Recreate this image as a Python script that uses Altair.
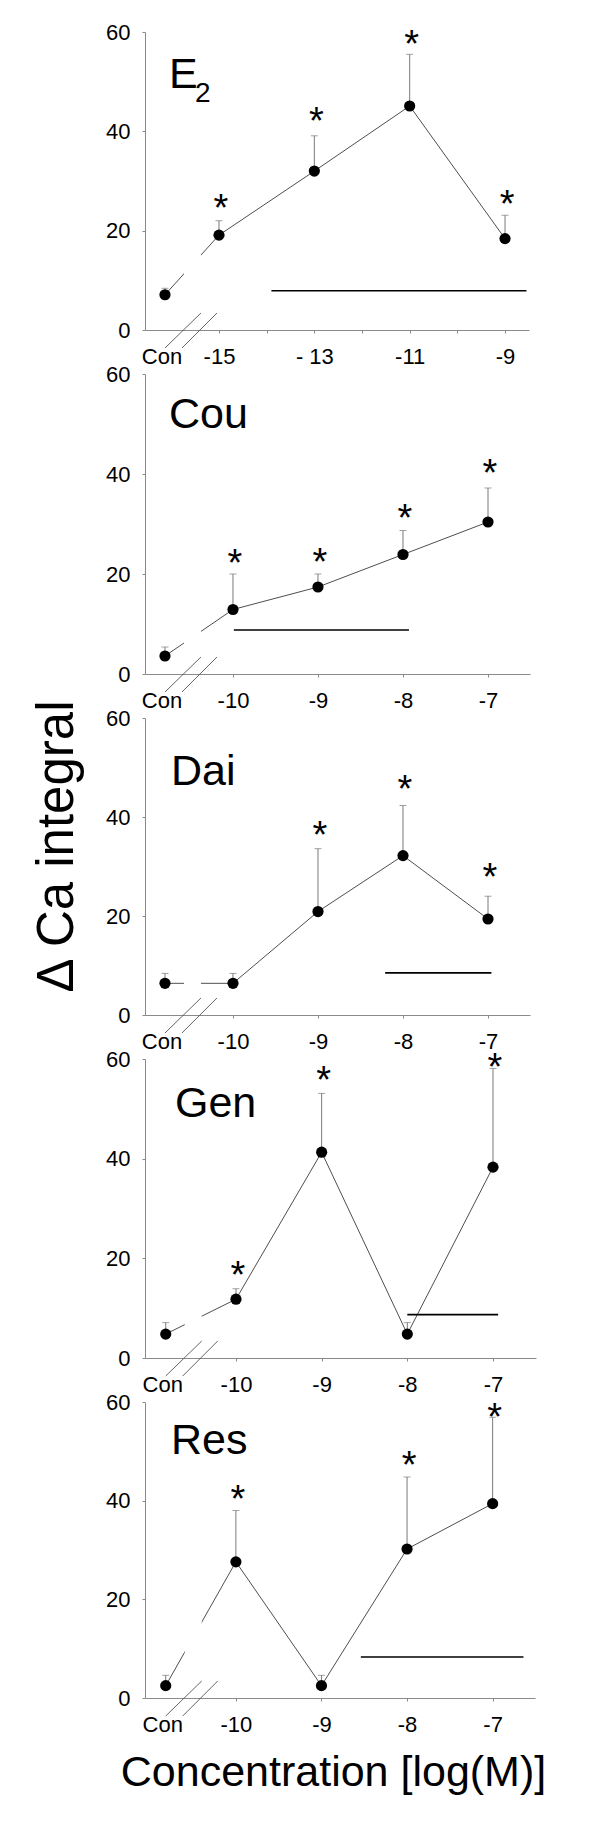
import altair as alt
import pandas as pd

FONT = "Liberation Sans"

# ---------------- data ----------------
panel_titles = ["E", "Cou", "Dai", "Gen", "Res"]
title_subscripts = ["2", "", "", "", ""]
con_label = "Con"
con_positions = [-16.133, -10.80, -10.80, -10.82, -10.82]
dose_positions = [
    [-15, -13, -11, -9],
    [-10, -9, -8, -7],
    [-10, -9, -8, -7],
    [-10, -9, -8, -7],
    [-10, -9, -8, -7],
]
means = [
    [7.1, 19.1, 32.0, 45.1, 18.4],
    [3.6, 12.9, 17.4, 23.9, 30.4],
    [6.4, 6.4, 20.9, 32.2, 19.4],
    [4.8, 11.8, 41.3, 4.8, 38.3],
    [2.5, 27.6, 2.5, 30.2, 39.4],
]
err_tops = [
    [8.4, 22.0, 39.1, 55.5, 23.1],
    [5.4, 20.0, 20.0, 28.7, 37.2],
    [8.4, 8.4, 33.6, 42.3, 24.0],
    [7.1, 13.9, 53.1, 7.1, 58.1],
    [4.6, 38.0, 4.6, 44.8, 56.9],
]
star_levels = [
    [None, 26.2, 43.6, 59.1, 27.0],
    [None, 23.9, 24.1, 32.8, 41.9],
    [None, None, 37.9, 47.3, 29.5],
    [None, 18.3, 57.3, None, 60.1],
    [None, 41.9, None, 48.9, 58.6],
]
bar_levels = [7.9, 8.8, 8.5, 8.7, 8.3]
bar_spans = [[-13.9, -8.55], [-9.99, -7.93], [-8.21, -6.96], [-8.0, -6.94], [-8.54, -6.64]]

tick_values = [
    [-15, -14, -13, -12, -11, -10, -9],
    [-10, -9, -8, -7],
    [-10, -9, -8, -7],
    [-10, -9, -8, -7],
    [-10, -9, -8, -7],
]
tick_texts = [
    ["-15", "", "- 13", "", "-11", "", "-9"],
    ["-10", "-9", "-8", "-7"],
    ["-10", "-9", "-8", "-7"],
    ["-10", "-9", "-8", "-7"],
    ["-10", "-9", "-8", "-7"],
]
y_ticks = [0, 20, 40, 60]
y_title = "Δ Ca integral"
x_title = "Concentration [log(M)]"

# ---------------- layout / style ----------------
x_domains = [[-16.552, -8.497], [-11.035, -6.506], [-11.035, -6.506], [-11.062, -6.498], [-11.062, -6.505]]
widths = [384, 385, 385, 391, 390]
heights = [298, 300, 297, 299, 296]
title_dx = [24, 24, 26, 30, 26]
title_base = [56, 54, 67, 58, 52]
BREAK_PX = [(0, 36), (17, 52)]
BAND_PX = (19, 36)
LABEL_SIZE = 22


def panel(i):
    w, h = widths[i], heights[i]
    d0, d1 = x_domains[i]
    pxx = w / (d1 - d0)
    pxy = h / 60.0
    cx = con_positions[i]
    xs = [cx] + dose_positions[i]
    pts = pd.DataFrame({"x": xs, "y": means[i], "top": err_tops[i]})

    parts = [f"datum.value == {v} ? '{t}'" for v, t in zip(tick_values[i], tick_texts[i])]
    label_expr = " : ".join(parts) + " : ''"

    xaxis_kw = dict(values=tick_values[i], labelExpr=label_expr, labelPadding=13,
                    labelOverlap=False, labelFlush=False)
    if i == 4:
        xaxis_kw.update(title=x_title, titleFontSize=43, titleX=188, titleY=53,
                        titleBaseline="top", titleAlign="center")
    else:
        xaxis_kw.update(title=None)
    yaxis_kw = dict(values=y_ticks, labelPadding=12)
    if i == 2:
        yaxis_kw.update(title=y_title, titleFontSize=51, titleX=-62, titleY=128,
                        titleAlign="center", titleAngle=270)
    else:
        yaxis_kw.update(title=None)

    X = alt.X("x:Q", scale=alt.Scale(domain=[d0, d1], nice=False, zero=False), axis=alt.Axis(**xaxis_kw))
    Y = alt.Y("y:Q", scale=alt.Scale(domain=[0, 60], nice=False, zero=False), axis=alt.Axis(**yaxis_kw))

    base = alt.Chart(pts)
    err = base.mark_rule(color="#7a7a7a", strokeWidth=1).encode(x=X, y=Y, y2="top:Q")
    caps = base.mark_tick(orient="horizontal", size=7, thickness=1, color="#7a7a7a").encode(
        x="x:Q", y="top:Q")
    line = base.mark_line(color="#3a3a3a", strokeWidth=0.9).encode(x="x:Q", y="y:Q")

    band = pd.DataFrame({"x": [cx + BAND_PX[0] / pxx], "x2": [cx + BAND_PX[1] / pxx],
                         "y": [0.6], "y2": [60]})
    band_l = alt.Chart(band).mark_rect(color="white").encode(x="x:Q", x2="x2:Q", y="y:Q", y2="y2:Q")

    brk = pd.DataFrame({
        "x": [cx + a / pxx for a, b in BREAK_PX],
        "x2": [cx + b / pxx for a, b in BREAK_PX],
        "y": [-18 / pxy] * 2,
        "y2": [17 / pxy] * 2,
    })
    brk_l = alt.Chart(brk).mark_rule(color="#555555", strokeWidth=0.9).encode(
        x="x:Q", x2="x2:Q", y="y:Q", y2="y2:Q")

    dots = base.mark_circle(size=125, color="black", opacity=1).encode(x="x:Q", y="y:Q")

    bar = pd.DataFrame({"x": [bar_spans[i][0]], "x2": [bar_spans[i][1]], "y": [bar_levels[i]]})
    bar_l = alt.Chart(bar).mark_rule(color="black", strokeWidth=1.6).encode(x="x:Q", x2="x2:Q", y="y:Q")

    st = pd.DataFrame({"x": xs, "y": star_levels[i]}).dropna()
    stars = alt.Chart(st).mark_text(text="*", fontSize=38, font=FONT, baseline="alphabetic",
                                    dy=21, dx=2, color="black").encode(x="x:Q", y="y:Q")

    conl = alt.Chart(pd.DataFrame({"x": [cx], "y": [0], "t": [con_label]})).mark_text(
        fontSize=LABEL_SIZE, font=FONT, baseline="alphabetic", dy=34, dx=-3, color="black").encode(
        x="x:Q", y="y:Q", text="t:N")

    ttl = alt.Chart(pd.DataFrame({"t": [panel_titles[i]]})).mark_text(
        fontSize=43, font=FONT, align="left", baseline="alphabetic", color="black").encode(
        x=alt.value(title_dx[i]), y=alt.value(title_base[i]), text="t:N")
    layers = [err, caps, line, band_l, brk_l, dots, bar_l, stars, conl, ttl]
    if title_subscripts[i]:
        sub = alt.Chart(pd.DataFrame({"t": [title_subscripts[i]]})).mark_text(
            fontSize=28, font=FONT, align="left", baseline="alphabetic", color="black").encode(
            x=alt.value(title_dx[i] + 26), y=alt.value(title_base[i] + 14), text="t:N")
        layers.append(sub)
    return alt.layer(*layers).properties(width=w, height=h)


p = [panel(i) for i in range(5)]

chart = alt.vconcat(*p, spacing=44, bounds="flush").properties(
    padding={"left": 22, "top": 13, "right": 5, "bottom": 5}
).configure_view(stroke=None).configure_axis(
    grid=False, domainColor="#8a8a8a", tickColor="#8a8a8a", tickSize=3,
    labelFont=FONT, labelFontSize=LABEL_SIZE, labelColor="black",
    titleFont=FONT, titleFontWeight="normal", titleColor="black",
)

chart.save("out.html", embed_options={"renderer": "svg", "actions": False})
